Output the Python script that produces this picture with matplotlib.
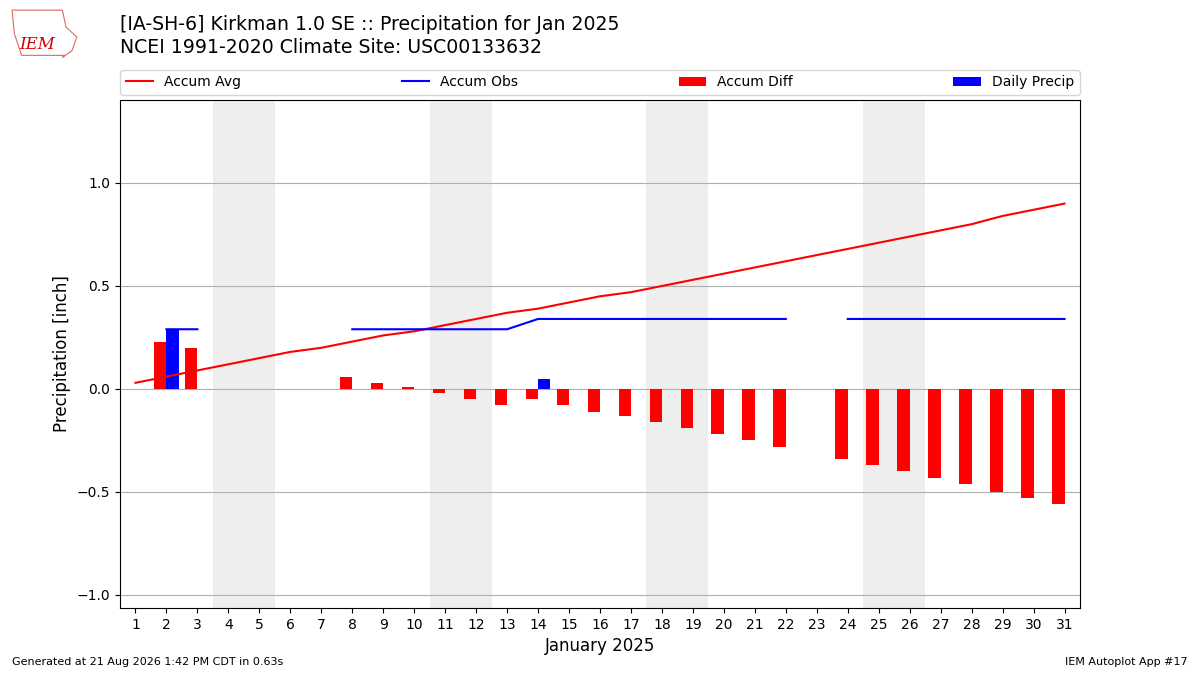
import matplotlib
matplotlib.use("Agg")
import matplotlib.pyplot as plt
from matplotlib.patches import Polygon

# day of month
days = list(range(1, 32))
# climatology accumulated precip (inch)
accum_avg = [0.03, 0.06, 0.09, 0.12, 0.15, 0.18, 0.20, 0.23, 0.26, 0.28,
             0.31, 0.34, 0.37, 0.39, 0.42, 0.45, 0.47, 0.50, 0.53, 0.56,
             0.59, 0.62, 0.65, 0.68, 0.71, 0.74, 0.77, 0.80, 0.84, 0.87,
             0.90]
# observed accumulated precip, None = missing report
accum_obs = [None, 0.29, 0.29, None, None, None, None, 0.29, 0.29, 0.29,
             0.29, 0.29, 0.29, 0.34, 0.34, 0.34, 0.34, 0.34, 0.34, 0.34,
             0.34, 0.34, None, 0.34, 0.34, 0.34, 0.34, 0.34, 0.34, 0.34,
             0.34]
daily_precip = [None, 0.29, 0.0, None, None, None, None, 0.0, 0.0, 0.0,
                0.0, 0.0, 0.0, 0.05, 0.0, 0.0, 0.0, 0.0, 0.0, 0.0,
                0.0, 0.0, None, 0.0, 0.0, 0.0, 0.0, 0.0, 0.0, 0.0,
                0.0]
weekend_days = [4, 5, 11, 12, 18, 19, 25, 26]

title = "[IA-SH-6] Kirkman 1.0 SE :: Precipitation for Jan 2025"
subtitle = "NCEI 1991-2020 Climate Site: USC00133632"

obs_plot = [float("nan") if v is None else v for v in accum_obs]
diff_x = [d for d, o in zip(days, accum_obs) if o is not None]
diff_y = [o - a for o, a in zip(accum_obs, accum_avg) if o is not None]
pr_x = [d for d, p in zip(days, daily_precip) if p]
pr_y = [p for p in daily_precip if p]

fig = plt.figure(figsize=(12, 6.75), dpi=100)
ax = fig.add_axes([0.1, 0.0993, 0.8, 0.7526])

for d in weekend_days:
    ax.axvspan(d - 0.5, d + 0.5, color="#eeeeee", zorder=0, lw=0)

ax.plot(days, accum_avg, color="r", lw=1.5, label="Accum Avg", zorder=3)
ax.plot(days, obs_plot, color="b", lw=1.5, label="Accum Obs", zorder=3)
ax.bar(diff_x, diff_y, width=-0.4, align="edge", color="r",
       label="Accum Diff", zorder=2)
ax.bar(pr_x, pr_y, width=0.4, align="edge", color="b",
       label="Daily Precip", zorder=2)

ax.set_xlim(0.5, 31.5)
ax.set_ylim(-1.063, 1.403)
ax.set_xticks(days)
ax.set_yticks([-1.0, -0.5, 0.0, 0.5, 1.0])
ax.grid(True, axis="y", color="#b0b0b0", lw=0.8)
ax.set_axisbelow(True)
ax.set_ylabel("Precipitation [inch]", fontsize=12)
ax.set_xlabel("January 2025", fontsize=12)

ax.legend(loc="lower left", bbox_to_anchor=(0, 1.01, 1, 0.05), ncol=4,
          mode="expand", borderaxespad=0, fontsize=10)

fig.text(0.1, 0.963, title, fontsize=13.6, va="center")
fig.text(0.1, 0.929, subtitle, fontsize=13.6, va="center")

# rough IEM logo stand-in
iowa = Polygon([(0.010, 0.985), (0.052, 0.985), (0.055, 0.960),
                (0.064, 0.945), (0.060, 0.925), (0.052, 0.915),
                (0.054, 0.918), (0.018, 0.918), (0.012, 0.950)],
               closed=True, fill=False, edgecolor="#e06666", lw=0.8,
               transform=fig.transFigure)
fig.patches.append(iowa)
fig.text(0.031, 0.934, "IEM", color="#d00000", fontsize=12,
         family="DejaVu Serif", style="italic", ha="center", va="center")

fig.text(0.01, 0.015, "Generated at 21 Aug 2026 1:42 PM CDT in 0.63s",
         fontsize=8)
fig.text(0.99, 0.015, "IEM Autoplot App #17", fontsize=8, ha="right")

fig.savefig("out.png", dpi=100)
